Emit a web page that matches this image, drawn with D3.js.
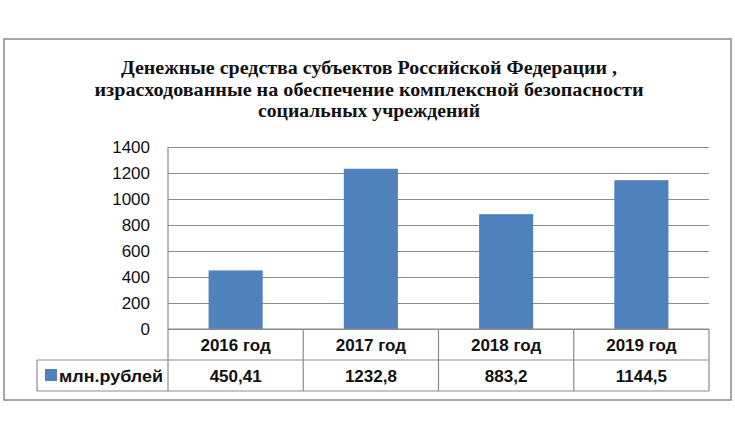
<!DOCTYPE html>
<html>
<head>
<meta charset="utf-8">
<script src="https://cdn.jsdelivr.net/npm/d3@7"></script>
<style>
  body { margin: 0; background: #fff; }
  svg { display: block; }
</style>
</head>
<body>
<svg id="chart"></svg>
<script>
const titleLines = [
  "Денежные средства субъектов Российской Федерации ,",
  "израсходованные на обеспечение комплексной безопасности",
  "социальных учреждений"
];
const categories = ["2016 год", "2017 год", "2018 год", "2019 год"];
const values = [450.41, 1232.8, 883.2, 1144.5];
const valueLabels = ["450,41", "1232,8", "883,2", "1144,5"];
const yTicks = [0, 200, 400, 600, 800, 1000, 1200, 1400];
const seriesName = "млн.рублей";

const width = 735, height = 441;
const plot = { left: 168, right: 709, top: 147, bottom: 329 };
const rowH = 31;
const barColor = "#4f81bd";
const lineColor = "#8c8c8c";

const svg = d3.select("#chart").attr("width", width).attr("height", height);

// outer frame
svg.append("rect")
  .attr("x", 4).attr("y", 39)
  .attr("width", 727).attr("height", 361)
  .attr("fill", "#fff")
  .attr("stroke", "#8a8a8a")
  .attr("stroke-width", 1.5);

// title
const titleWidths = [496, 549, 222];
svg.append("g").selectAll("text")
  .data(titleLines)
  .join("text")
  .attr("x", 369)
  .attr("y", (d, i) => 74 + i * 21.5)
  .attr("text-anchor", "middle")
  .attr("textLength", (d, i) => titleWidths[i])
  .attr("lengthAdjust", "spacingAndGlyphs")
  .style("font-family", "'Liberation Serif', 'Times New Roman', serif")
  .style("font-weight", "bold")
  .style("font-size", "18px")
  .attr("fill", "#111")
  .text(d => d);

const yScale = d3.scaleLinear()
  .domain([0, 1400])
  .range([plot.bottom, plot.top]);

const xScale = d3.scaleBand()
  .domain(categories)
  .range([plot.left, plot.right])
  .paddingInner(0.6)
  .paddingOuter(0.3);

const colScale = d3.scaleBand()
  .domain(categories)
  .range([plot.left, plot.right]);

// gridlines
const grid = d3.axisLeft(yScale)
  .tickValues(yTicks)
  .tickSize(-(plot.right - plot.left))
  .tickFormat("");
svg.append("g")
  .attr("class", "grid")
  .attr("transform", "translate(" + plot.left + ",0)")
  .call(grid)
  .call(g => g.select(".domain").remove())
  .call(g => g.selectAll("line").attr("stroke", lineColor).attr("stroke-width", 1.2));

// bars
svg.append("g").selectAll("rect")
  .data(values)
  .join("rect")
  .attr("x", (d, i) => xScale(categories[i]))
  .attr("width", xScale.bandwidth())
  .attr("y", d => yScale(d))
  .attr("height", d => plot.bottom - yScale(d))
  .attr("fill", barColor);

// y axis labels
const yAxis = d3.axisLeft(yScale)
  .tickValues(yTicks)
  .tickSize(0)
  .tickPadding(18)
  .tickFormat(d3.format("d"));
svg.append("g")
  .attr("class", "y axis")
  .attr("transform", "translate(" + plot.left + ",0)")
  .call(yAxis)
  .call(g => g.select(".domain").remove())
  .call(g => g.selectAll("text")
    .style("font-family", "'Liberation Sans', Arial, sans-serif")
    .style("font-size", "17px")
    .attr("fill", "#111"));

// data table
const tableTop = plot.bottom;
const row2 = tableTop + rowH;
const tableBottom = row2 + rowH;
const tbl = svg.append("g")
  .attr("stroke", lineColor)
  .attr("stroke-width", 1.2);

// left axis line running down through the table
tbl.append("line")
  .attr("x1", plot.left).attr("x2", plot.left)
  .attr("y1", plot.top).attr("y2", tableBottom);
// horizontal rules
tbl.append("line")
  .attr("x1", plot.left).attr("x2", plot.right)
  .attr("y1", tableTop).attr("y2", tableTop);
tbl.append("line")
  .attr("x1", 37).attr("x2", plot.right)
  .attr("y1", row2).attr("y2", row2);
tbl.append("line")
  .attr("x1", 37).attr("x2", plot.right)
  .attr("y1", tableBottom).attr("y2", tableBottom);
tbl.append("line")
  .attr("x1", 37).attr("x2", 37)
  .attr("y1", row2).attr("y2", tableBottom);
// column separators
tbl.selectAll(".col")
  .data(categories)
  .join("line")
  .attr("class", "col")
  .attr("x1", d => colScale(d) + colScale.bandwidth())
  .attr("x2", d => colScale(d) + colScale.bandwidth())
  .attr("y1", tableTop).attr("y2", tableBottom);

const tableFont = "'Liberation Sans', Arial, sans-serif";

svg.append("g").selectAll("text")
  .data(categories)
  .join("text")
  .attr("x", d => colScale(d) + colScale.bandwidth() / 2)
  .attr("y", tableTop + rowH / 2)
  .attr("dy", "0.36em")
  .attr("text-anchor", "middle")
  .style("font-family", tableFont)
  .style("font-weight", "bold")
  .style("font-size", "17px")
  .attr("fill", "#111")
  .text(d => d);

svg.append("g").selectAll("text")
  .data(valueLabels)
  .join("text")
  .attr("x", (d, i) => colScale(categories[i]) + colScale.bandwidth() / 2)
  .attr("y", row2 + rowH / 2)
  .attr("dy", "0.36em")
  .attr("text-anchor", "middle")
  .style("font-family", tableFont)
  .style("font-weight", "bold")
  .style("font-size", "17px")
  .attr("fill", "#111")
  .text(d => d);

// legend key in the table
svg.append("rect")
  .attr("x", 45).attr("y", row2 + 9)
  .attr("width", 12).attr("height", 12)
  .attr("fill", barColor);
svg.append("text")
  .attr("x", 59)
  .attr("y", row2 + rowH / 2)
  .attr("dy", "0.36em")
  .attr("textLength", 104)
  .attr("lengthAdjust", "spacingAndGlyphs")
  .style("font-family", tableFont)
  .style("font-weight", "bold")
  .style("font-size", "17px")
  .attr("fill", "#111")
  .text(seriesName);
</script>
</body>
</html>
